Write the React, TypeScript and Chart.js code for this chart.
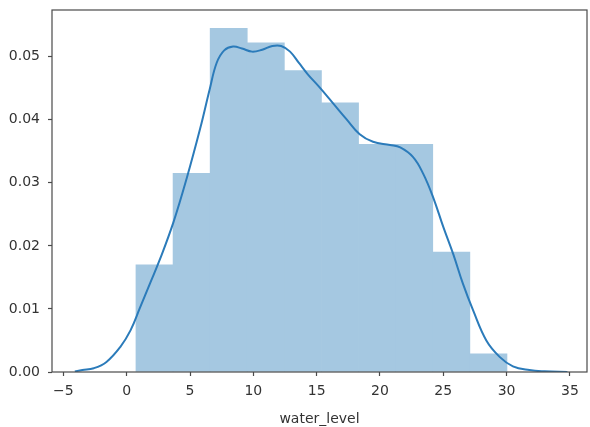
import { useEffect, useRef } from "react";
import { Chart, registerables } from "chart.js";
Chart.register(...registerables);

// Histogram (density) of water_level
const binEdges = [0.73, 3.66, 6.59, 9.52, 12.45, 15.38, 18.31, 21.24, 24.17, 27.1, 30.03];
const binDensity = [0.017, 0.0315, 0.0545, 0.0522, 0.0478, 0.0427, 0.0361, 0.0361, 0.019, 0.0029];

// KDE curve
const kdeX = [-4.1, -3.5, -2.6, -1.6, -0.5, 0.3, 1.05, 1.85, 2.65, 3.7, 4.75, 5.8, 6.55, 7.1, 7.7, 8.4, 9.1, 9.9, 10.7, 11.5, 12.2, 12.9, 13.6, 14.3, 15.2, 16.3, 17.35, 18.4, 19.45, 20.8, 21.6, 22.6, 23.4, 24.2, 25.0, 25.8, 26.55, 27.35, 28.4, 29.45, 30.5, 31.8, 33.0, 34.8];
const kdeY = [0.0001, 0.0003, 0.0006, 0.0016, 0.004, 0.0066, 0.0102, 0.0141, 0.018, 0.0238, 0.0308, 0.0386, 0.0448, 0.049, 0.051, 0.0516, 0.0513, 0.0508, 0.0511, 0.0517, 0.0517, 0.0508, 0.049, 0.0472, 0.0452, 0.0426, 0.0401, 0.0377, 0.0365, 0.036, 0.0356, 0.0341, 0.0315, 0.0277, 0.023, 0.0186, 0.014, 0.0098, 0.005, 0.0024, 0.0009, 0.0003, 0.0001, 0.0];

const xTicks = [-5, 0, 5, 10, 15, 20, 25, 30, 35];
const yTicks = [0, 0.01, 0.02, 0.03, 0.04, 0.05];
const xTitle = "water_level";

const AXIS = "#4a4a4a";
const TEXT = "#333333";

const framePlugin = {
  id: "frame",
  afterDatasetsDraw(chart: any) {
    const { ctx, chartArea: a } = chart;
    ctx.save();
    ctx.strokeStyle = AXIS;
    ctx.lineWidth = 1.2;
    ctx.strokeRect(a.left, a.top, a.right - a.left, a.bottom - a.top);
    ctx.restore();
  },
};

export default function App() {
  const ref = useRef<HTMLCanvasElement>(null);
  useEffect(() => {
    document.body.style.margin = "0";
    Chart.defaults.font.family = "'DejaVu Sans', sans-serif";
    const bars = binDensity.map((d, i) => ({ x: (binEdges[i] + binEdges[i + 1]) / 2, y: d }));
    const kde = kdeX.map((x, i) => ({ x, y: kdeY[i] }));
    const chart = new Chart(ref.current as HTMLCanvasElement, {
      type: "line",
      data: {
        datasets: [
          {
            type: "line",
            data: kde,
            borderColor: "#2b7bba",
            borderWidth: 2,
            pointRadius: 0,
            tension: 0.4,
            fill: false,
            order: 0,
          } as any,
          {
            type: "bar",
            data: bars,
            backgroundColor: "#a5c8e1",
            borderWidth: 0,
            barPercentage: 1,
            categoryPercentage: 1,
            order: 1,
          } as any,
        ],
      },
      plugins: [framePlugin],
      options: {
        animation: false,
        responsive: false,
        layout: { padding: { top: 10, right: 3, left: 0, bottom: 0 } },
        plugins: { legend: { display: false }, tooltip: { enabled: false } },
        scales: {
          x: {
            type: "linear",
            min: -5.9,
            max: 36.35,
            offset: false,
            grid: { offset: false, drawOnChartArea: false, drawTicks: true, tickLength: 4, tickColor: AXIS, tickWidth: 1.2, color: AXIS },
            border: { display: false },
            afterBuildTicks: (s: any) => {
              s.ticks = xTicks.map((v) => ({ value: v }));
            },
            afterFit: (s: any) => {
              s.height = 55;
              s.paddingLeft = 0;
              s.paddingRight = 0;
            },
            ticks: { color: TEXT, font: { size: 14 }, padding: 7, maxRotation: 0, callback: (v: any) => String(v).replace("-", "\u2212") },
            title: { display: true, text: xTitle, color: TEXT, font: { size: 14 }, padding: { top: 4, bottom: -1 } },
          },
          y: {
            type: "linear",
            min: 0,
            max: 0.0574,
            grid: { drawOnChartArea: false, drawTicks: true, tickLength: 4, tickColor: AXIS, tickWidth: 1.2, color: AXIS },
            border: { display: false },
            afterBuildTicks: (s: any) => {
              s.ticks = yTicks.map((v) => ({ value: v }));
            },
            afterFit: (s: any) => {
              s.width = 52;
              s.paddingTop = 0;
              s.paddingBottom = 0;
            },
            ticks: { color: TEXT, font: { size: 14 }, padding: 8, callback: (v: any) => Number(v).toFixed(2) },
          },
        },
      },
    });
    return () => chart.destroy();
  }, []);
  return <canvas ref={ref} width={590} height={427} />;
}
